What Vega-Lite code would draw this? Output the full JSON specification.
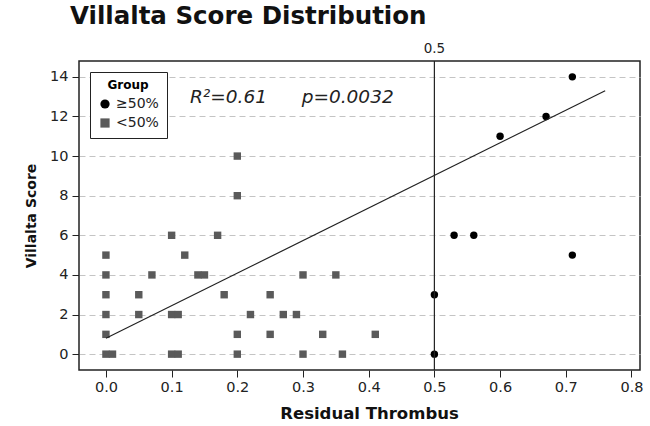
{
  "$schema": "https://vega.github.io/schema/vega-lite/v6.json",
  "width": 561,
  "height": 309,
  "autosize": {"type": "none"},
  "padding": {"left": 79, "top": 61, "right": 10, "bottom": 56},
  "background": "white",
  "title": {"text": "Villalta Score Distribution", "anchor": "start", "frame": "group", "dx": -9, "offset": 13, "font": "DejaVu Sans", "fontSize": 24.5, "fontWeight": "bold", "color": "#111"},
  "config": {
    "view": {"stroke": "#222", "strokeWidth": 1.5},
    "axis": {"labelFont": "DejaVu Sans", "titleFont": "DejaVu Sans", "labelFontSize": 14.5, "labelColor": "#222", "titleColor": "#111", "tickColor": "#222", "domain": false, "tickSize": 7}
  },
  "datasets": {
    "pts": [
      {"x": 0.0, "y": 5, "group": "<50%"},
      {"x": 0.0, "y": 4, "group": "<50%"},
      {"x": 0.0, "y": 3, "group": "<50%"},
      {"x": 0.0, "y": 2, "group": "<50%"},
      {"x": 0.0, "y": 1, "group": "<50%"},
      {"x": 0.0, "y": 0, "group": "<50%"},
      {"x": 0.01, "y": 0, "group": "<50%"},
      {"x": 0.05, "y": 3, "group": "<50%"},
      {"x": 0.05, "y": 2, "group": "<50%"},
      {"x": 0.07, "y": 4, "group": "<50%"},
      {"x": 0.10, "y": 6, "group": "<50%"},
      {"x": 0.10, "y": 2, "group": "<50%"},
      {"x": 0.10, "y": 0, "group": "<50%"},
      {"x": 0.11, "y": 2, "group": "<50%"},
      {"x": 0.11, "y": 0, "group": "<50%"},
      {"x": 0.12, "y": 5, "group": "<50%"},
      {"x": 0.14, "y": 4, "group": "<50%"},
      {"x": 0.15, "y": 4, "group": "<50%"},
      {"x": 0.17, "y": 6, "group": "<50%"},
      {"x": 0.18, "y": 3, "group": "<50%"},
      {"x": 0.20, "y": 10, "group": "<50%"},
      {"x": 0.20, "y": 8, "group": "<50%"},
      {"x": 0.20, "y": 1, "group": "<50%"},
      {"x": 0.20, "y": 0, "group": "<50%"},
      {"x": 0.22, "y": 2, "group": "<50%"},
      {"x": 0.25, "y": 3, "group": "<50%"},
      {"x": 0.25, "y": 1, "group": "<50%"},
      {"x": 0.27, "y": 2, "group": "<50%"},
      {"x": 0.29, "y": 2, "group": "<50%"},
      {"x": 0.30, "y": 4, "group": "<50%"},
      {"x": 0.30, "y": 0, "group": "<50%"},
      {"x": 0.33, "y": 1, "group": "<50%"},
      {"x": 0.35, "y": 4, "group": "<50%"},
      {"x": 0.36, "y": 0, "group": "<50%"},
      {"x": 0.41, "y": 1, "group": "<50%"},
      {"x": 0.50, "y": 3, "group": "≥50%"},
      {"x": 0.50, "y": 0, "group": "≥50%"},
      {"x": 0.53, "y": 6, "group": "≥50%"},
      {"x": 0.56, "y": 6, "group": "≥50%"},
      {"x": 0.60, "y": 11, "group": "≥50%"},
      {"x": 0.67, "y": 12, "group": "≥50%"},
      {"x": 0.71, "y": 14, "group": "≥50%"},
      {"x": 0.71, "y": 5, "group": "≥50%"}
    ],
    "fit": [
      {"x": 0.0, "y": 0.8},
      {"x": 0.76, "y": 13.3}
    ],
    "notes": [
      {"x": 0.128, "y": 13.0, "label": "R²=0.61"},
      {"x": 0.298, "y": 13.0, "label": "p=0.0032"}
    ],
    "cut": [
      {"x": 0.5, "y": 14.8, "label": "0.5"}
    ]
  },
  "layer": [
    {
      "data": {"name": "pts"},
      "mark": {"type": "point", "filled": true, "opacity": 1, "size": 55},
      "encoding": {
        "x": {"field": "x", "type": "quantitative", "scale": {"domain": [-0.041, 0.813], "nice": false, "zero": false},
              "axis": {"values": [0, 0.1, 0.2, 0.3, 0.4, 0.5, 0.6, 0.7, 0.8], "format": ".1f", "grid": false, "title": "Residual Thrombus", "titleFontSize": 16.5, "titlePadding": 12, "titleX": 290, "labelPadding": 3}},
        "y": {"field": "y", "type": "quantitative", "scale": {"domain": [-0.8, 14.8], "nice": false, "zero": false},
              "axis": {"values": [0, 2, 4, 6, 8, 10, 12, 14], "grid": true, "gridDash": [6, 4], "gridColor": "#c4c4c4", "gridWidth": 1, "title": "Villalta Score", "titleFontSize": 14, "titlePadding": 11, "labelPadding": 4}},
        "color": {"field": "group", "type": "nominal", "scale": {"domain": ["≥50%", "<50%"], "range": ["#000000", "#5a5a5a"]},
                  "legend": {"title": "Group", "orient": "top-left", "offset": 11, "strokeColor": "#222", "fillColor": "white", "padding": 8, "titleFont": "DejaVu Sans", "titleFontSize": 12, "titleFontWeight": "bold", "titleAnchor": "middle", "labelFont": "DejaVu Sans", "labelFontSize": 14, "labelColor": "#222", "symbolSize": 85, "rowPadding": 5}},
        "shape": {"field": "group", "type": "nominal", "scale": {"domain": ["≥50%", "<50%"], "range": ["circle", "square"]}}
      }
    },
    {
      "data": {"name": "fit"},
      "mark": {"type": "line", "color": "#222", "strokeWidth": 1.2},
      "encoding": {"x": {"field": "x", "type": "quantitative"}, "y": {"field": "y", "type": "quantitative"}}
    },
    {
      "data": {"name": "cut"},
      "mark": {"type": "rule", "color": "#222", "strokeWidth": 1.2},
      "encoding": {"x": {"field": "x", "type": "quantitative"}}
    },
    {
      "data": {"name": "cut"},
      "mark": {"type": "text", "baseline": "bottom", "dy": -5, "font": "DejaVu Sans", "fontSize": 13.5, "color": "#222"},
      "encoding": {"x": {"field": "x", "type": "quantitative"}, "y": {"field": "y", "type": "quantitative"}, "text": {"field": "label"}}
    },
    {
      "data": {"name": "notes"},
      "mark": {"type": "text", "align": "left", "baseline": "middle", "font": "DejaVu Sans", "fontSize": 18.5, "fontStyle": "italic", "color": "#222"},
      "encoding": {"x": {"field": "x", "type": "quantitative"}, "y": {"field": "y", "type": "quantitative"}, "text": {"field": "label"}}
    }
  ]
}
